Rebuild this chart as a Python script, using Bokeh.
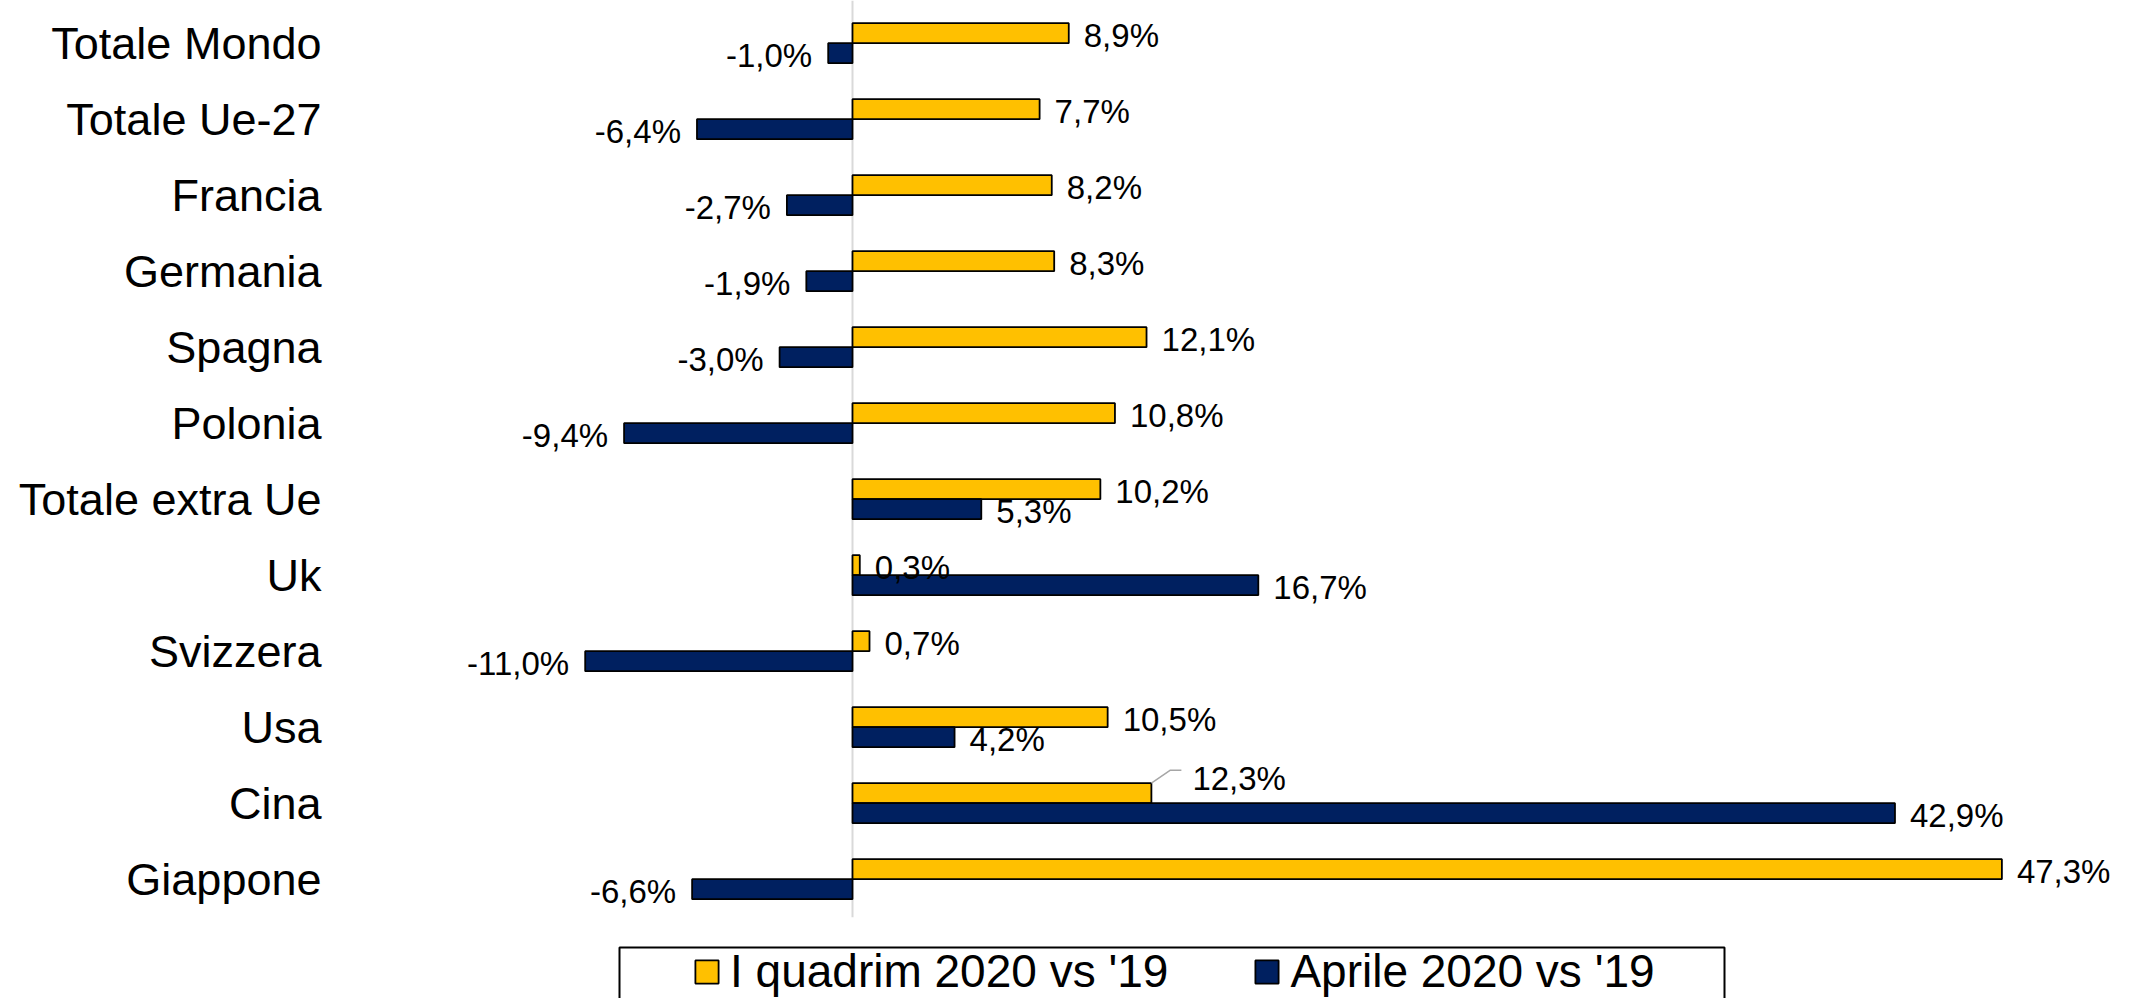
from bokeh.plotting import figure
from bokeh.models import ColumnDataSource, Range1d, FixedTicker, Legend, LegendItem, BoxAnnotation
from bokeh.core.properties import value
from bokeh.embed import file_html
from bokeh.resources import INLINE

categories = ["Totale Mondo", "Totale Ue-27", "Francia", "Germania", "Spagna", "Polonia",
              "Totale extra Ue", "Uk", "Svizzera", "Usa", "Cina", "Giappone"]
quadrim = [8.9, 7.7, 8.2, 8.3, 12.1, 10.8, 10.2, 0.3, 0.7, 10.5, 12.3, 47.3]
aprile = [-1.0, -6.4, -2.7, -1.9, -3.0, -9.4, 5.3, 16.7, -11.0, 4.2, 42.9, -6.6]
series_names = ["I quadrim 2020 vs '19", "Aprile 2020 vs '19"]
colors = ["#FFC000", "#002060"]

FONT = "Liberation Sans"
W, H = 2123, 998
FRAME_LEFT = 340
ZERO_PX = 852          # zero line, figure coords
PX_X = 24.3            # pixels per percent point
PX_Y = 76.0            # pixels per category
FIRST_CENTER = 42.7    # first category center, figure coords

x_start = (FRAME_LEFT - ZERO_PX) / PX_X
x_end = (W - ZERO_PX) / PX_X
n = len(categories)
y_end = (n - 1) + FIRST_CENTER / PX_Y
y_start = y_end - H / PX_Y

ypos = [n - 1 - i for i in range(n)]
half = 10 / PX_Y
bar_h = 20 / PX_Y

p = figure(width=W, height=H, output_backend="svg", toolbar_location=None,
           x_range=Range1d(x_start, x_end), y_range=Range1d(y_start, y_end),
           x_axis_type=None, min_border_left=FRAME_LEFT, min_border_right=0,
           min_border_top=0, min_border_bottom=0)
p.outline_line_color = None
p.ygrid.grid_line_color = None
p.background_fill_color = "white"

# zero line
p.segment(x0=[0], x1=[0], y0=[-0.5], y1=[y_end], line_color="#d9d9d9", line_width=2)

src1 = ColumnDataSource(dict(y=[v + half for v in ypos], right=quadrim))
src2 = ColumnDataSource(dict(y=[v - half for v in ypos], right=aprile))
r1 = p.hbar(y="y", left=0, right="right", height=bar_h, source=src1,
            fill_color=colors[0], line_color="black", line_width=1.8)
r2 = p.hbar(y="y", left=0, right="right", height=bar_h, source=src2,
            fill_color=colors[1], line_color="black", line_width=1.8)

def fmt(v):
    return f"{v:.1f}%".replace(".", ",")

special = {("Cina", 0): (41, -15)}

pos = dict(x=[], y=[], t=[], xo=[], yo=[])
neg = dict(x=[], y=[], t=[], xo=[], yo=[])
for s, (vals, off) in enumerate([(quadrim, half), (aprile, -half)]):
    for i, v in enumerate(vals):
        d = pos if v >= 0 else neg
        xo, yo = (15, 2) if v >= 0 else (-16, 2)
        if (categories[i], s) in special:
            xo, yo = special[(categories[i], s)]
        d["x"].append(v); d["y"].append(ypos[i] + off); d["t"].append(fmt(v))
        d["xo"].append(xo); d["yo"].append(yo)

for d, align in [(pos, "left"), (neg, "right")]:
    p.text(x="x", y="y", text="t", x_offset="xo", y_offset="yo", source=ColumnDataSource(d),
           text_font=value(FONT), text_font_size=value("33px"), text_color="black",
           text_align=align, text_baseline="middle")

# leader line for Cina label
ci = categories.index("Cina")
cv = quadrim[ci]
ctop = ypos[ci] + half + bar_h / 2
p.line(x=[cv, cv + 19 / PX_X, cv + 30 / PX_X], y=[ctop, ctop + 13 / PX_Y, ctop + 13 / PX_Y],
       line_color="#a6a6a6", line_width=1.5)

# y axis
p.yaxis.ticker = FixedTicker(ticks=ypos)
p.yaxis.major_label_overrides = {ypos[i]: c for i, c in enumerate(categories)}
p.yaxis.axis_line_color = None
p.yaxis.major_tick_line_color = None
p.yaxis.minor_tick_line_color = None
p.yaxis.major_label_standoff = 13
p.yaxis.major_label_text_font = FONT
p.yaxis.major_label_text_font_size = "45px"
p.yaxis.major_label_text_color = "black"

# legend
legend = Legend(items=[LegendItem(label=series_names[0], renderers=[r1]),
                       LegendItem(label=series_names[1], renderers=[r2])],
                orientation="horizontal", location=(344, -8),
                glyph_width=29, glyph_height=29, label_standoff=9, spacing=84, padding=8,
                label_text_font=FONT, label_text_font_size="46px", label_text_color="black",
                border_line_alpha=0, background_fill_alpha=0)
p.add_layout(legend, "center")

box = BoxAnnotation(left=(619 - ZERO_PX) / PX_X, right=(1724 - ZERO_PX) / PX_X,
                    top=y_end - 947 / PX_Y, bottom=y_start - 1,
                    fill_alpha=0, line_color="black", line_alpha=1, line_width=2)
p.add_layout(box)

open("out.html", "w").write(file_html(p, INLINE))
